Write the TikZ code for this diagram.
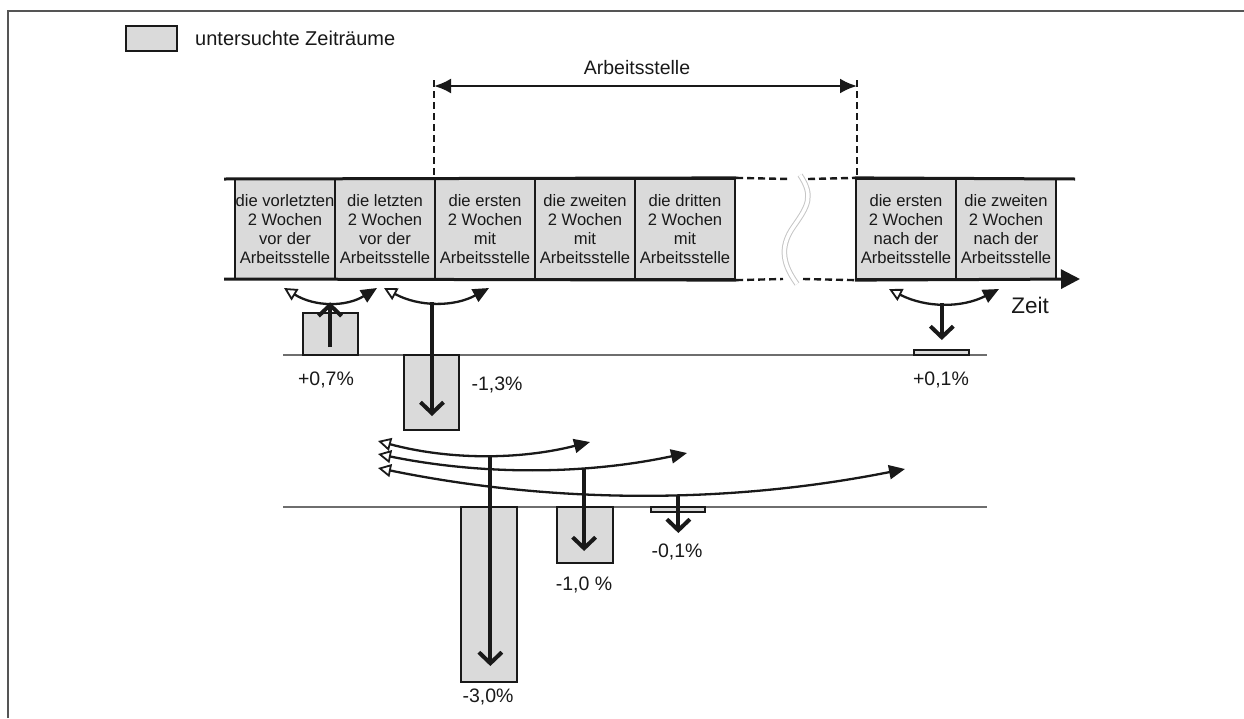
\documentclass[tikz,border=0pt]{standalone}
\usepackage{fontspec}
\setmainfont{Liberation Sans}
\usetikzlibrary{arrows.meta,calc}
\definecolor{boxgray}{RGB}{218,218,218}
\definecolor{ink}{RGB}{25,25,25}
\definecolor{framec}{RGB}{85,85,85}
\definecolor{basegray}{RGB}{110,110,110}
\begin{document}
\begin{tikzpicture}[x=1pt,y=-1pt,
  period/.style={draw=ink, line width=2.2pt, fill=boxgray, minimum width=100pt, minimum height=100pt, inner sep=0pt, align=center, text=ink, font=\fontsize{16.6}{19}\selectfont},
  bar/.style={draw=ink, line width=1.8pt, fill=boxgray, inner sep=0pt},
  axis/.style={draw=ink, line width=3pt},
  dashline/.style={draw=ink, line width=2.4pt, dash pattern=on 7pt off 4pt},
  baseline/.style={draw=basegray, line width=1.3pt},
  swing/.style={draw=ink, line width=2.3pt, {Triangle[open,length=13pt,width=13pt,line width=1.8pt]}-{Triangle[length=16pt,width=14pt]}},
  effect/.style={draw=ink, line width=4pt, -{Straight Barb[length=11pt,width=23pt]}},
  lbl/.style={font=\fontsize{19.5}{23}\selectfont, text=ink, inner sep=0pt},
]
\useasboundingbox (0,0) rectangle (1244,718);
% frame
\draw[framec, line width=2.4pt] (8,718) -- (8,11) -- (1244,11);

% legend
\node[bar, line width=2.2pt, minimum width=51pt, minimum height=25pt] (leg) at (151.5,38.5) {};
\node[lbl, anchor=west, font=\fontsize{20}{24}\selectfont] (legt) at (195,38) {untersuchte Zeiträume};

% periods
\node[period] (p1) at (285,229) {die vorletzten\\2 Wochen\\vor der\\Arbeitsstelle};
\node[period] (p2) at (385,229) {die letzten\\2 Wochen\\vor der\\Arbeitsstelle};
\node[period] (p3) at (485,229) {die ersten\\2 Wochen\\mit\\Arbeitsstelle};
\node[period] (p4) at (585,229) {die zweiten\\2 Wochen\\mit\\Arbeitsstelle};
\node[period] (p5) at (685,229) {die dritten\\2 Wochen\\mit\\Arbeitsstelle};
\node[period] (p6) at (906,229) {die ersten\\2 Wochen\\nach der\\Arbeitsstelle};
\node[period] (p7) at (1006,229) {die zweiten\\2 Wochen\\nach der\\Arbeitsstelle};

% time axis
\coordinate (tl) at (224,179);
\coordinate (bl) at (224,279);
\coordinate (gt1) at (790,179);
\coordinate (gt2) at (808,179);
\coordinate (gb1) at (783,279);
\coordinate (gb2) at (803,279);
\coordinate (tr) at (1075,179);
\coordinate (br) at (1080,279);
\draw[axis] (tl) -- (p5.north east);
\draw[dashline] (p5.north east) -- (gt1);
\draw[dashline] (gt2) -- (p6.north west);
\draw[axis] (p6.north west) -- (tr);
\draw[axis] (bl) -- (p5.south east);
\draw[dashline] (p5.south east) -- (gb1);
\draw[dashline] (gb2) -- (p6.south west);
\draw[axis, -{Triangle[length=19pt,width=19pt]}] (p6.south west) -- (br);
\node[font=\fontsize{22.5}{26}\selectfont, text=ink] (zeit) at (1030,305) {Zeit};

% break mark
\draw[draw=gray!45, line width=1pt, double=white, double distance=3.5pt]
  (800,175) .. controls (814,196) and (808,206) .. (794,226)
  .. controls (778,248) and (784,266) .. (797,284);

% Arbeitsstelle span
\coordinate (a1) at (434,80);
\coordinate (a2) at (857,80);
\coordinate (ar1) at (434,86);
\coordinate (ar2) at (857,86);
\draw[dashline] (a1) -- (a1 |- p3.north);
\draw[dashline] (a2) -- (a2 |- p6.north);
\draw[ink, line width=2.4pt, {Latex[length=17pt,width=15pt]}-{Latex[length=17pt,width=15pt]}] (ar1) -- (ar2);
\node[lbl] (arb) at (637,68) {Arbeitsstelle};

% upper comparison
\draw[baseline] (283,355) -- (987,355);
\node[bar, minimum width=55pt, minimum height=42pt] (g1) at (330.5,334) {};
\node[bar, minimum width=55pt, minimum height=75pt] (g2) at (431.5,392.5) {};
\node[bar, minimum width=55pt, minimum height=5pt] (g3) at (941.5,352.5) {};
\draw[swing] (284,288) .. controls (315,307) and (346,307) .. (377,288) coordinate[pos=0.495] (ca);
\draw[swing] (384,288) .. controls (419,307) and (454,307) .. (489,288) coordinate[pos=0.457] (cb);
\draw[swing] (889,289) .. controls (926,308) and (962,308) .. (999,289) coordinate[pos=0.48] (cc);
\coordinate (e1) at (330,347);
\coordinate (e2) at (432,416);
\coordinate (e3) at (942,340);
\draw[effect] (ca |- e1) -- (ca);
\draw[effect] (cb) -- (cb |- e2);
\draw[effect] (cc) -- (cc |- e3);
\node[lbl] (l1) at (326,380) {+0,7\%};
\node[lbl] (l2) at (497,385) {-1,3\%};
\node[lbl] (l3) at (941,380) {+0,1\%};

% lower comparison
\draw[baseline] (283,507) -- (987,507);
\node[bar, minimum width=56pt, minimum height=175pt] (h1) at (489,594.5) {};
\node[bar, minimum width=56pt, minimum height=56pt] (h2) at (585,535) {};
\node[bar, minimum width=54pt, minimum height=5pt] (h3) at (678,509.5) {};
\draw[swing] (378,441) .. controls (449,460) and (519,460) .. (590,442) coordinate[pos=0.53] (d1);
\draw[swing] (378,454) .. controls (481,475) and (584,475) .. (687,453) coordinate[pos=0.667] (d2);
\draw[swing] (378,468) .. controls (554,504) and (729,504) .. (905,469) coordinate[pos=0.57] (d3);
\coordinate (f1) at (490,666);
\coordinate (f2) at (584,551);
\coordinate (f3) at (678,533);
\draw[effect] (d1) -- (d1 |- f1);
\draw[effect] (d2) -- (d2 |- f2);
\draw[effect] (d3) -- (d3 |- f3);
\node[lbl] (m1) at (488,697) {-3,0\%};
\node[lbl] (m2) at (584,585) {-1,0 \%};
\node[lbl] (m3) at (677,552) {-0,1\%};
\end{tikzpicture}
\end{document}
